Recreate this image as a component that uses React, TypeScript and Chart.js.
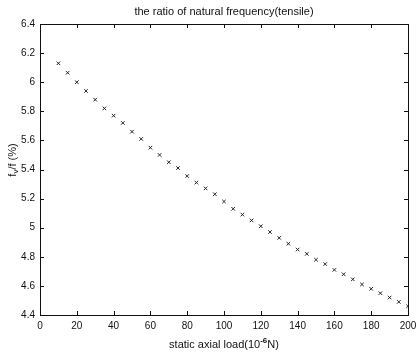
import React, { useEffect, useRef } from "react";
import { Chart, registerables } from "chart.js";

Chart.register(...registerables);

const loads = [10, 15, 20, 25, 30, 35, 40, 45, 50, 55, 60, 65, 70, 75, 80, 85, 90, 95, 100, 105, 110, 115, 120, 125, 130, 135, 140, 145, 150, 155, 160, 165, 170, 175, 180, 185, 190, 195, 200];
const ratios = [6.13, 6.065, 6.0, 5.94, 5.88, 5.82, 5.77, 5.72, 5.66, 5.61, 5.55, 5.5, 5.45, 5.41, 5.355, 5.31, 5.27, 5.23, 5.18, 5.13, 5.09, 5.05, 5.01, 4.97, 4.93, 4.89, 4.85, 4.82, 4.78, 4.75, 4.71, 4.68, 4.645, 4.61, 4.58, 4.55, 4.52, 4.49, 4.46];
const titleText = "the ratio of natural frequency(tensile)";
const xMin = 0, xMax = 200, xStep = 20;
const yMin = 4.4, yMax = 6.4, yStep = 0.2;

const FONT = "'Liberation Sans', Arial, sans-serif";

const decorPlugin = {
  id: "decor",
  afterDraw(chart: any) {
    const ctx = chart.ctx;
    const a = chart.chartArea;
    const xs = chart.scales.x;
    const ys = chart.scales.y;
    ctx.save();
    ctx.strokeStyle = "#111";
    ctx.lineWidth = 1;
    ctx.strokeRect(Math.round(a.left) + 0.5, Math.round(a.top) + 0.5, Math.round(a.right - a.left), Math.round(a.bottom - a.top));
    const tl = 4;
    ctx.beginPath();
    xs.ticks.forEach((t: any) => {
      const px = Math.round(xs.getPixelForValue(t.value)) + 0.5;
      ctx.moveTo(px, a.bottom);
      ctx.lineTo(px, a.bottom - tl);
      ctx.moveTo(px, a.top);
      ctx.lineTo(px, a.top + tl);
    });
    ys.ticks.forEach((t: any) => {
      const py = Math.round(ys.getPixelForValue(t.value)) + 0.5;
      ctx.moveTo(a.left, py);
      ctx.lineTo(a.left + tl, py);
      ctx.moveTo(a.right, py);
      ctx.lineTo(a.right - tl, py);
    });
    ctx.stroke();

    ctx.fillStyle = "#111";
    // title
    ctx.font = `11px ${FONT}`;
    ctx.textAlign = "center";
    ctx.textBaseline = "middle";
    ctx.fillText(titleText, (a.left + a.right) / 2, 12);

    // x title with superscript
    const cx = (a.left + a.right) / 2;
    const cy = 345;
    const p1 = "static axial load(10";
    const sup = "-6";
    const p2 = "N)";
    ctx.font = `11px ${FONT}`;
    const w1 = ctx.measureText(p1).width;
    const w3 = ctx.measureText(p2).width;
    ctx.font = `bold 8px ${FONT}`;
    const w2 = ctx.measureText(sup).width;
    const total = w1 + w2 + w3;
    const x0 = cx - total / 2;
    ctx.textAlign = "left";
    ctx.font = `11px ${FONT}`;
    ctx.fillText(p1, x0, cy);
    ctx.font = `bold 8px ${FONT}`;
    ctx.fillText(sup, x0 + w1, cy - 4);
    ctx.font = `11px ${FONT}`;
    ctx.fillText(p2, x0 + w1 + w2, cy);

    // y title rotated
    ctx.save();
    ctx.translate(13, 160);
    ctx.rotate(-Math.PI / 2);
    const q1 = "f";
    const qs = "v";
    const q2 = "/f (%)";
    ctx.font = `11px ${FONT}`;
    const v1 = ctx.measureText(q1).width;
    const v3 = ctx.measureText(q2).width;
    ctx.font = `8px ${FONT}`;
    const v2 = ctx.measureText(qs).width;
    const tot = v1 + v2 + v3;
    const y0 = -tot / 2;
    ctx.textAlign = "left";
    ctx.font = `11px ${FONT}`;
    ctx.fillText(q1, y0, 0);
    ctx.font = `8px ${FONT}`;
    ctx.fillText(qs, y0 + v1, 3);
    ctx.font = `11px ${FONT}`;
    ctx.fillText(q2, y0 + v1 + v2, 0);
    ctx.restore();

    ctx.restore();
  },
};

export default function App() {
  const ref = useRef<HTMLCanvasElement>(null);
  useEffect(() => {
    document.body.style.margin = "0";
    const canvas = ref.current;
    if (!canvas) return;
    const chart = new Chart(canvas, {
      type: "scatter",
      data: {
        datasets: [
          {
            data: loads.map((x, i) => ({ x, y: ratios[i] })),
            showLine: false,
            pointStyle: "crossRot",
            pointRadius: 2.5,
            pointBorderWidth: 1,
            borderColor: "#222",
            backgroundColor: "#222",
          },
        ],
      },
      options: {
        responsive: false,
        animation: false,
        devicePixelRatio: 1,
        layout: { padding: { top: 24, right: 9, left: 0, bottom: 0 } },
        plugins: {
          legend: { display: false },
          title: { display: false },
          tooltip: { enabled: false },
        },
        scales: {
          x: {
            type: "linear",
            min: xMin,
            max: xMax,
            afterFit: (s: any) => {
              s.height = 39;
              s.paddingLeft = 0;
              s.paddingRight = 0;
            },
            grid: { display: false, drawTicks: false },
            border: { display: false },
            ticks: {
              stepSize: xStep,
              padding: 5,
              color: "#111",
              font: { family: FONT, size: 10 },
              maxRotation: 0,
              autoSkip: false,
            },
          },
          y: {
            type: "linear",
            min: yMin,
            max: yMax,
            afterFit: (s: any) => {
              s.width = 40;
              s.paddingTop = 0;
              s.paddingBottom = 0;
            },
            grid: { display: false, drawTicks: false },
            border: { display: false },
            ticks: {
              stepSize: yStep,
              padding: 5,
              color: "#111",
              font: { family: FONT, size: 10 },
              autoSkip: false,
              callback: (v: any) => String(Number(Number(v).toFixed(1))),
            },
          },
        },
      },
      plugins: [decorPlugin],
    });
    return () => chart.destroy();
  }, []);
  return (
    <div style={{ position: "absolute", left: 0, top: 0, width: 417, height: 354, background: "#fff" }}>
      <canvas ref={ref} width={417} height={354} style={{ width: 417, height: 354 }} />
    </div>
  );
}
